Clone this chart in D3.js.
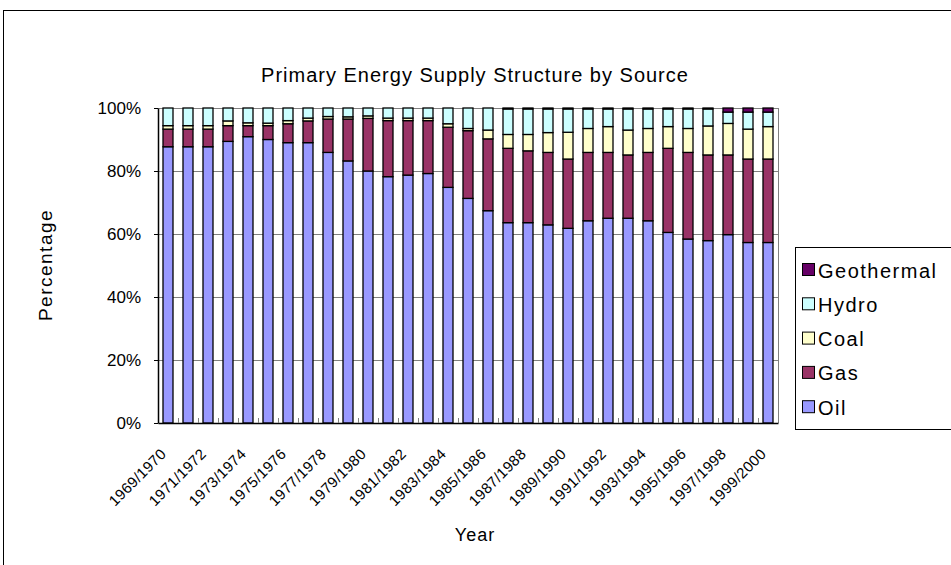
<!DOCTYPE html>
<html>
<head>
<meta charset="utf-8">
<script src="https://cdn.jsdelivr.net/npm/d3@7"></script>
<style>
  html, body { margin: 0; padding: 0; background: #fff; }
  svg { display: block; font-family: "Liberation Sans", Arial, sans-serif; }
</style>
</head>
<body>
<svg id="chart" width="951" height="565"></svg>
<script>
// Fiscal years (start/end)
const years = [
  "1969/1970","1970/1971","1971/1972","1972/1973","1973/1974","1974/1975",
  "1975/1976","1976/1977","1977/1978","1978/1979","1979/1980","1980/1981",
  "1981/1982","1982/1983","1983/1984","1984/1985","1985/1986","1986/1987",
  "1987/1988","1988/1989","1989/1990","1990/1991","1991/1992","1992/1993",
  "1993/1994","1994/1995","1995/1996","1996/1997","1997/1998","1998/1999",
  "1999/2000"
];

// Share of primary energy supply by source, percent
const oil = [87.7,87.7,87.7,89.4,90.9,90.0,89.0,89.0,85.9,83.2,80.0,78.2,78.7,79.2,74.8,71.3,
             67.4,63.6,63.6,62.9,61.8,64.2,65.0,65.0,64.2,60.5,58.4,57.9,59.8,57.3,57.3];
const gas = [5.6,5.6,5.6,5.0,3.5,4.4,6.0,6.9,10.6,13.3,16.7,17.8,17.3,16.8,19.1,21.5,
             22.8,23.6,22.8,23.0,22.0,21.7,20.9,20.1,21.7,26.7,27.5,27.2,25.3,26.5,26.5];
const coal = [1.1,1.1,1.1,1.5,0.9,0.8,1.0,0.9,0.8,0.7,0.8,0.8,0.8,0.8,1.1,0.7,
              2.8,4.4,5.2,6.3,8.5,7.6,8.2,7.9,7.6,6.9,7.6,9.2,10.0,9.5,10.3];
const hydro = [5.6,5.6,5.6,4.1,4.7,4.8,4.0,3.2,2.7,2.8,2.5,3.2,3.2,3.2,5.0,6.5,
               7.0,8.1,8.1,7.5,7.4,6.2,5.6,6.7,6.2,5.6,6.2,5.4,3.6,5.4,4.6];
const geothermal = [0,0,0,0,0,0,0,0,0,0,0,0,0,0,0,0,
                    0,0.3,0.3,0.3,0.3,0.3,0.3,0.3,0.3,0.3,0.3,0.3,1.3,1.3,1.3];

const seriesNames = ["Oil","Gas","Coal","Hydro","Geothermal"];
const seriesColors = ["#9999FF","#993366","#FFFFCC","#CCFFFF","#660066"];
const yTicks = [0,20,40,60,80,100];

const rows = years.map((yr, i) => ({
  year: yr, Oil: oil[i], Gas: gas[i], Coal: coal[i], Hydro: hydro[i], Geothermal: geothermal[i]
}));

const svg = d3.select("#chart");

// outer chart frame
svg.append("rect")
  .attr("x", 3.5).attr("y", 10.5).attr("width", 1000).attr("height", 600)
  .attr("fill", "#fff").attr("stroke", "#000").attr("stroke-width", 1);

const plot = { left: 158, right: 778, top: 108, bottom: 423 };

const x = d3.scaleBand().domain(years).range([plot.left, plot.right])
  .paddingInner(0.5).paddingOuter(0.25);
const y = d3.scaleLinear().domain([0, 100]).range([plot.bottom, plot.top]);

// title
svg.append("text")
  .attr("x", 475).attr("y", 82)
  .attr("text-anchor", "middle")
  .style("font-size", "20px").style("letter-spacing", "1px")
  .text("Primary Energy Supply Structure by Source");

// gridlines
svg.append("g").selectAll("line").data(yTicks.filter(d => d > 0)).join("line")
  .attr("x1", plot.left).attr("x2", plot.right)
  .attr("y1", d => Math.round(y(d)) + 0.5).attr("y2", d => Math.round(y(d)) + 0.5)
  .attr("stroke", "#808080").attr("stroke-width", 1);

// right frame of the plot area
svg.append("line")
  .attr("x1", plot.right + 0.5).attr("x2", plot.right + 0.5)
  .attr("y1", plot.top).attr("y2", plot.bottom)
  .attr("stroke", "#808080");

// stacked bars
const stack = d3.stack().keys(seriesNames);
const layers = stack(rows);

svg.append("g").selectAll("g").data(layers).join("g")
  .attr("fill", (d, i) => seriesColors[i])
  .selectAll("rect").data(d => d.filter(s => s[1] - s[0] > 0)).join("rect")
  .attr("x", d => x(d.data.year))
  .attr("width", x.bandwidth())
  .attr("y", d => y(d[1]))
  .attr("height", d => y(d[0]) - y(d[1]))
  .attr("stroke", "#000").attr("stroke-width", 1.3);

// y axis
const yAxis = d3.axisLeft(y).tickValues(yTicks).tickFormat(d => d + "%")
  .tickSize(4).tickSizeOuter(0).tickPadding(13);
const gy = svg.append("g").attr("transform", `translate(${plot.left},0)`).call(yAxis);
gy.select(".domain").attr("stroke", "#000").attr("stroke-width", 1.5);
gy.selectAll(".tick line").attr("stroke", "#000");
gy.selectAll(".tick text").style("font-size", "17px").attr("fill", "#000")
  .style("font-family", "Liberation Sans, Arial, sans-serif");

// x axis
const xAxis = d3.axisBottom(x).tickSize(0).tickSizeOuter(0)
  .tickFormat((d, i) => i % 2 === 0 ? d : "");
const gx = svg.append("g").attr("transform", `translate(0,${plot.bottom})`).call(xAxis);
gx.select(".domain").attr("stroke", "#000").attr("stroke-width", 1.5);
gx.selectAll(".tick text")
  .attr("text-anchor", "end")
  .attr("dy", 0).attr("y", 0)
  .attr("transform", "translate(-1,32) rotate(-45)")
  .style("font-size", "15px").style("letter-spacing", "0.3px")
  .style("font-family", "Liberation Sans, Arial, sans-serif")
  .attr("fill", "#000");

// category separator ticks
const step = x.step();
svg.append("g").selectAll("line").data(years.slice(1)).join("line")
  .attr("x1", d => x(d) - step * 0.25 + 0.5).attr("x2", d => x(d) - step * 0.25 + 0.5)
  .attr("y1", plot.bottom - 5).attr("y2", plot.bottom)
  .attr("stroke", "#808080");

// axis titles
svg.append("text")
  .attr("transform", "translate(52,265) rotate(-90)")
  .attr("text-anchor", "middle")
  .style("font-size", "19px").style("letter-spacing", "1.5px")
  .text("Percentage");

svg.append("text")
  .attr("x", 475).attr("y", 541)
  .attr("text-anchor", "middle")
  .style("font-size", "18px").style("letter-spacing", "1px")
  .text("Year");

// legend
const legend = svg.append("g");
legend.append("rect")
  .attr("x", 795.5).attr("y", 247.5).attr("width", 200).attr("height", 182)
  .attr("fill", "#fff").attr("stroke", "#000");
const legendItems = seriesNames.slice().reverse();
const legendColors = seriesColors.slice().reverse();
const li = legend.selectAll("g.item").data(legendItems).join("g")
  .attr("class", "item")
  .attr("transform", (d, i) => `translate(802,${270 + i * 34.3})`);
li.append("rect")
  .attr("x", 0.5).attr("y", -6.5).attr("width", 12).attr("height", 12)
  .attr("fill", (d, i) => legendColors[i]).attr("stroke", "#000");
li.append("text")
  .attr("x", 16).attr("y", 7.5)
  .style("font-size", "20px").style("letter-spacing", "1.5px")
  .text(d => d);
</script>
</body>
</html>
